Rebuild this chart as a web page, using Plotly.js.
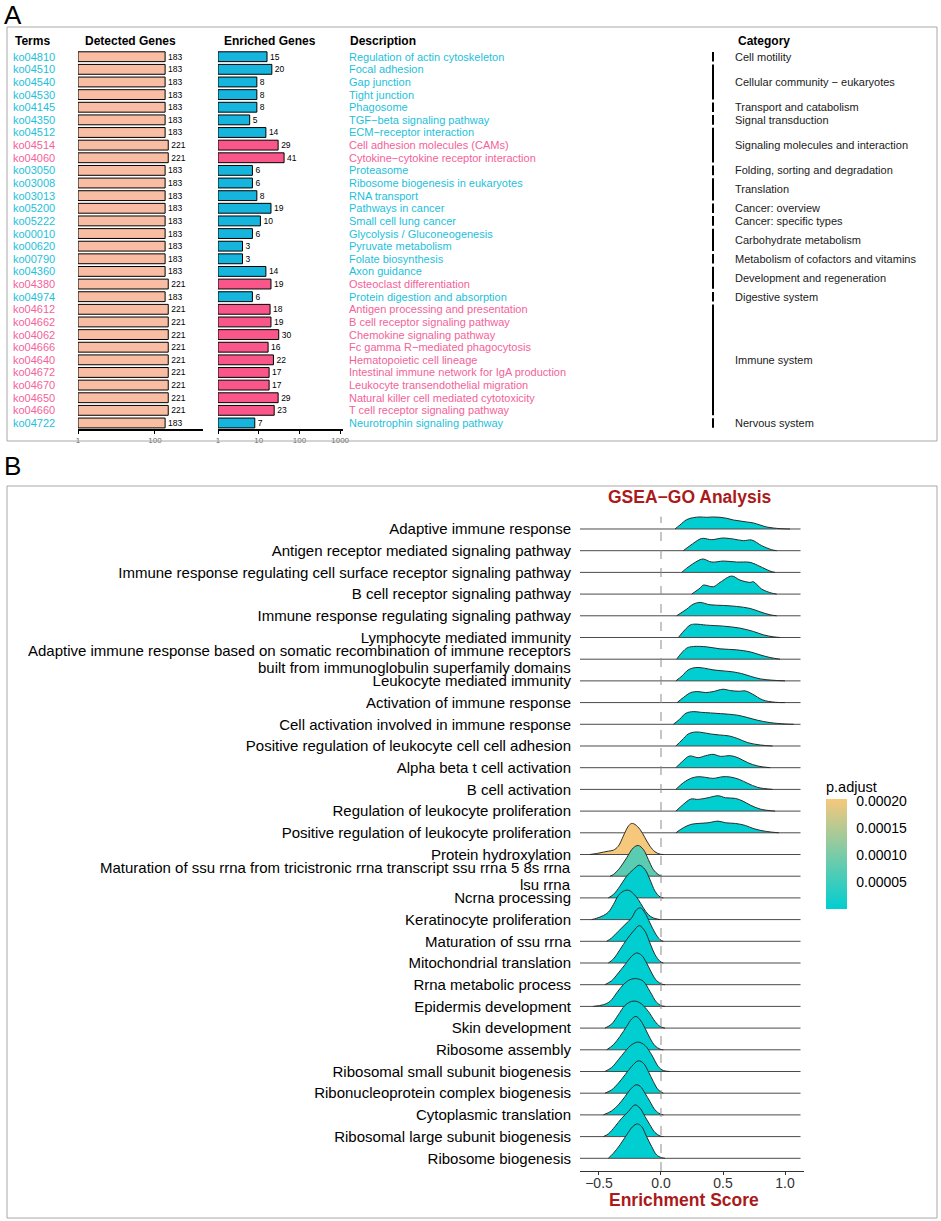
<!DOCTYPE html>
<html><head><meta charset="utf-8">
<script src="https://cdn.plot.ly/plotly-3.0.1.min.js"></script>
<style>html,body{margin:0;padding:0;background:#fff}#chart{width:941px;height:1221px}</style>
</head><body><div id="chart"></div>
<script>
// ---------------- Panel A data ----------------
const terms = ['ko04810','ko04510','ko04540','ko04530','ko04145','ko04350','ko04512','ko04514','ko04060','ko03050','ko03008','ko03013','ko05200','ko05222','ko00010','ko00620','ko00790','ko04360','ko04380','ko04974','ko04612','ko04662','ko04062','ko04666','ko04640','ko04672','ko04670','ko04650','ko04660','ko04722'];
const detectedGenes = [183,183,183,183,183,183,183,221,221,183,183,183,183,183,183,183,183,183,221,183,221,221,221,221,221,221,221,221,221,183];
const enrichedGenes = [15,20,8,8,8,5,14,29,41,6,6,8,19,10,6,3,3,14,19,6,18,19,30,16,22,17,17,29,23,7];
const termHighlight = [0,0,0,0,0,0,0,1,1,0,0,0,0,0,0,0,0,0,1,0,1,1,1,1,1,1,1,1,1,0];
const descriptions = ['Regulation of actin cytoskeleton','Focal adhesion','Gap junction','Tight junction','Phagosome','TGF\u2212beta signaling pathway','ECM\u2212receptor interaction','Cell adhesion molecules (CAMs)','Cytokine\u2212cytokine receptor interaction','Proteasome','Ribosome biogenesis in eukaryotes','RNA transport','Pathways in cancer','Small cell lung cancer','Glycolysis / Gluconeogenesis','Pyruvate metabolism','Folate biosynthesis','Axon guidance','Osteoclast differentiation','Protein digestion and absorption','Antigen processing and presentation','B cell receptor signaling pathway','Chemokine signaling pathway','Fc gamma R\u2212mediated phagocytosis','Hematopoietic cell lineage','Intestinal immune network for IgA production','Leukocyte transendothelial migration','Natural killer cell mediated cytotoxicity','T cell receptor signaling pathway','Neurotrophin signaling pathway'];
const categoryOfTerm = ['Cell motility','Cellular community \u2212 eukaryotes','Cellular community \u2212 eukaryotes','Cellular community \u2212 eukaryotes','Transport and catabolism','Signal transduction','Signaling molecules and interaction','Signaling molecules and interaction','Signaling molecules and interaction','Folding, sorting and degradation','Translation','Translation','Cancer: overview','Cancer: specific types','Carbohydrate metabolism','Carbohydrate metabolism','Metabolism of cofactors and vitamins','Development and regeneration','Development and regeneration','Digestive system','Immune system','Immune system','Immune system','Immune system','Immune system','Immune system','Immune system','Immune system','Immune system','Nervous system'];
const detectedTicks = [1,100];
const enrichedTicks = [1,10,100,1000];

// ---------------- Panel B data ----------------
const goTerms = ['Adaptive immune response','Antigen receptor mediated signaling pathway','Immune response regulating cell surface receptor signaling pathway','B cell receptor signaling pathway','Immune response regulating signaling pathway','Lymphocyte mediated immunity','Adaptive immune response based on somatic recombination of immune receptors\nbuilt from immunoglobulin superfamily domains','Leukocyte mediated immunity','Activation of immune response','Cell activation involved in immune response','Positive regulation of leukocyte cell cell adhesion','Alpha beta t cell activation','B cell activation','Regulation of leukocyte proliferation','Positive regulation of leukocyte proliferation','Protein hydroxylation','Maturation of ssu rrna from tricistronic rrna transcript ssu rrna 5 8s rrna\nlsu rrna','Ncrna processing','Keratinocyte proliferation','Maturation of ssu rrna','Mitochondrial translation','Rrna metabolic process','Epidermis development','Skin development','Ribosome assembly','Ribosomal small subunit biogenesis','Ribonucleoprotein complex biogenesis','Cytoplasmic translation','Ribosomal large subunit biogenesis','Ribosome biogenesis'];
const pAdjust = [1.3e-6,1.4e-6,1.4e-6,1.5e-6,1.3e-6,1.3e-6,1.4e-6,1.3e-6,1.5e-6,1.3e-6,1.6e-6,1.8e-6,1.5e-6,1.7e-6,2.0e-6,2.04e-4,7.5e-5,3.0e-6,2.5e-6,2.0e-6,1.8e-6,2.2e-6,1.6e-6,1.9e-6,1.4e-6,1.5e-6,1.6e-6,1.3e-6,1.4e-6,1.25e-6];
// enrichment scores (x) and relative density (height) read from each ridge
const ridgeScores = [
 [0.113,0.153,0.207,0.261,0.315,0.368,0.422,0.476,0.53,0.583,0.637,0.691,0.745,0.798,0.852,0.906,0.96,1.04],
 [0.18,0.234,0.315,0.341,0.409,0.476,0.503,0.583,0.664,0.731,0.812,0.892,0.933],
 [0.167,0.234,0.315,0.341,0.409,0.503,0.61,0.718,0.798,0.879,0.919],
 [0.247,0.315,0.341,0.422,0.476,0.57,0.637,0.718,0.745,0.812,0.892,0.933],
 [0.126,0.207,0.261,0.315,0.395,0.503,0.61,0.718,0.798,0.879,0.933],
 [0.14,0.234,0.274,0.368,0.503,0.637,0.745,0.825,0.906,0.96],
 [0.126,0.207,0.261,0.368,0.476,0.61,0.718,0.798,0.879,0.96],
 [0.12,0.17,0.22,0.28,0.35,0.42,0.5,0.58,0.65,0.72,0.8,0.9,1.0],
 [0.13,0.18,0.24,0.3,0.36,0.42,0.5,0.56,0.63,0.68,0.74,0.82,0.92,1.0],
 [0.1,0.15,0.2,0.26,0.32,0.4,0.48,0.55,0.62,0.7,0.78,0.88,1.0,1.07],
 [0.12,0.17,0.22,0.28,0.34,0.4,0.47,0.55,0.62,0.7,0.8,0.9],
 [0.12,0.17,0.23,0.3,0.36,0.42,0.48,0.56,0.62,0.7,0.78,0.88],
 [0.12,0.18,0.24,0.3,0.36,0.42,0.5,0.56,0.63,0.7,0.78,0.9],
 [0.12,0.18,0.24,0.3,0.38,0.46,0.52,0.6,0.66,0.72,0.8,0.92],
 [0.12,0.18,0.24,0.3,0.38,0.46,0.52,0.6,0.68,0.75,0.85,0.95],
 [-0.573,-0.519,-0.465,-0.425,-0.384,-0.344,-0.304,-0.263,-0.237,-0.210,-0.169,-0.129,-0.089,-0.048,-0.008,0.019],
 [-0.411,-0.384,-0.331,-0.277,-0.223,-0.183,-0.142,-0.102,-0.062,-0.022,0.005],
 [-0.425,-0.384,-0.331,-0.277,-0.223,-0.175,-0.129,-0.089,-0.048,-0.008,0.019],
 [-0.559,-0.519,-0.465,-0.425,-0.384,-0.344,-0.304,-0.263,-0.223,-0.183,-0.142,-0.102,-0.062,-0.008],
 [-0.438,-0.398,-0.344,-0.290,-0.237,-0.196,-0.164,-0.129,-0.089,-0.048,-0.008,0.019],
 [-0.425,-0.384,-0.331,-0.277,-0.223,-0.175,-0.129,-0.089,-0.048,-0.008,0.019],
 [-0.452,-0.398,-0.344,-0.290,-0.237,-0.196,-0.156,-0.116,-0.075,-0.035,0.005,0.032],
 [-0.546,-0.465,-0.411,-0.358,-0.304,-0.250,-0.196,-0.142,-0.089,-0.035,0.005,0.032],
 [-0.452,-0.398,-0.344,-0.290,-0.237,-0.196,-0.156,-0.102,-0.048,-0.008,0.032],
 [-0.438,-0.384,-0.331,-0.277,-0.237,-0.202,-0.169,-0.129,-0.089,-0.048,-0.008,0.019],
 [-0.452,-0.398,-0.344,-0.290,-0.237,-0.183,-0.129,-0.075,-0.022,0.019,0.073],
 [-0.452,-0.398,-0.344,-0.290,-0.237,-0.183,-0.142,-0.102,-0.062,-0.022,0.019],
 [-0.465,-0.398,-0.344,-0.290,-0.250,-0.202,-0.169,-0.129,-0.089,-0.048,-0.008,0.019],
 [-0.465,-0.425,-0.371,-0.317,-0.263,-0.210,-0.169,-0.129,-0.089,-0.048,-0.008,0.019],
 [-0.425,-0.384,-0.331,-0.277,-0.228,-0.191,-0.156,-0.116,-0.075,-0.035,0.005,0.032]
];
const ridgeDensity = [
 [0,12,28,34,36,35,36,35,32,27,24,21,18,12,6,3,1,0],
 [0,15,35,37,33,37,38,35,30,32,15,3,0],
 [0,20,38,40,31,34,31,30,18,4,0],
 [0,18,27,22,35,54,42,35,37,15,3,0],
 [0,20,35,40,33,31,28,22,12,3,0],
 [0,37,40,37,34,28,18,8,2,0],
 [0,33,38,37,31,28,22,13,5,0],
 [0,15,33,40,38,33,30,27,22,14,6,2,0],
 [0,15,30,33,30,33,40,36,34,35,25,8,1,0],
 [0,15,33,38,36,34,32,30,27,20,12,5,1,0],
 [0,18,36,42,40,36,33,30,22,10,3,0],
 [0,18,35,30,36,40,34,36,30,15,5,0],
 [0,20,33,38,36,33,38,37,30,18,6,0],
 [0,20,36,35,40,46,40,38,30,18,6,0],
 [0,15,25,28,30,35,30,28,22,12,4,0],
 [0,3,7,10,13,25,55,85,93,90,75,50,25,8,1,0],
 [0,5,25,55,85,92,80,50,20,5,0],
 [0,10,35,65,85,98,85,55,20,3,0],
 [0,4,12,22,45,72,85,88,78,60,35,15,5,0],
 [0,10,30,50,70,95,100,85,55,25,5,0],
 [0,12,40,70,95,112,95,60,25,5,0],
 [0,12,35,60,85,95,88,65,35,12,2,0],
 [0,5,15,40,65,80,83,75,45,12,2,0],
 [0,12,40,68,80,80,72,50,20,5,0],
 [0,15,40,70,92,100,90,65,35,12,2,0],
 [0,12,35,60,80,88,78,50,15,3,0],
 [0,10,30,55,80,97,90,65,35,10,0],
 [0,12,30,55,75,90,86,65,40,15,3,0],
 [0,8,30,55,75,95,85,60,35,12,2,0],
 [0,15,40,70,95,103,95,65,35,10,2,0]
];
const densityRange = [-0.653, 1.125];
const scoreTicks = [-0.5,0,0.5,1];
const scoreTickText = ['\u22120.5','0.0','0.5','1.0'];
const pTicks = [0.00005,0.0001,0.00015,0.0002];
const pLimits = [1.25e-6, 2.04e-4];

// ---------------- styling / layout helpers ----------------
const W = 941, H = 1221;
const fx = p => p / W;
const fy = p => 1 - p / H;
const FONT = 'Liberation Sans, Arial, Helvetica, sans-serif';
const CYAN_TXT = '#1EBFDB', PINK_TXT = '#F4629A';
const BLUE_BAR = '#16B5DD', PINK_BAR = '#F9568A', SALMON = '#F8BDA2';
const LOW = [0,206,209], HIGH = [246,200,124];
const DARKRED = '#AA1A1A';
const ridgeScale = 1/65;   // density -> row units
const ROW_PX = 21.67;      // pixel height of one ridge row

function pColor(p){
  const t = Math.max(0, Math.min(1, (p - pLimits[0])/(pLimits[1]-pLimits[0])));
  const c = LOW.map((v,k)=>Math.round(v + (HIGH[k]-v)*t));
  return 'rgb('+c.join(',')+')';
}

const traces = [];
// Panel A bars
traces.push({
  type:'bar', orientation:'h', x: detectedGenes, y: terms, base: 1,
  xaxis:'x', yaxis:'y', width:0.78,
  marker:{color:SALMON, line:{color:'#000', width:1}},
  text: detectedGenes.map(String), textposition:'outside', cliponaxis:false,
  textfont:{size:8.5, color:'#000', family:FONT}, constraintext:'none', hoverinfo:'skip'
});
traces.push({
  type:'bar', orientation:'h', x: enrichedGenes, y: terms, base: 1,
  xaxis:'x2', yaxis:'y', width:0.78,
  marker:{color: termHighlight.map(h => h ? PINK_BAR : BLUE_BAR), line:{color:'#000', width:1}},
  text: enrichedGenes.map(String), textposition:'outside', cliponaxis:false,
  textfont:{size:8.5, color:'#000', family:FONT}, constraintext:'none', hoverinfo:'skip'
});

// Panel B ridges (top row drawn first, lower rows overlay)
const nR = goTerms.length;
goTerms.forEach((g, i) => {
  const base = nR - 1 - i;
  traces.push({
    type:'scatter', mode:'lines', x: densityRange, y:[base, base],
    xaxis:'x3', yaxis:'y3', line:{color:'#4a4a4a', width:1}, hoverinfo:'skip'
  });
  traces.push({
    type:'scatter', mode:'lines', x: ridgeScores[i], y: ridgeDensity[i].map(d => base + d*ridgeScale),
    xaxis:'x3', yaxis:'y3', fill:'tonexty', fillcolor: pColor(pAdjust[i]),
    line:{color:'#2b2b2b', width:1, shape:'spline', smoothing:1}, hoverinfo:'skip'
  });
});
// colour bar carrier
traces.push({
  type:'scatter', mode:'markers', x: pAdjust.map(()=>null), y: pAdjust.map(()=>null),
  xaxis:'x3', yaxis:'y3', hoverinfo:'skip',
  marker:{color:pAdjust, cmin:pLimits[0], cmax:pLimits[1],
    colorscale:[[0,'rgb('+LOW.join(',')+')'],[1,'rgb('+HIGH.join(',')+')']], showscale:true,
    colorbar:{x:fx(826), xanchor:'left', xpad:0, y:fy(778), yanchor:'top', ypad:0,
      len:131, lenmode:'pixels', thickness:21, thicknessmode:'pixels', outlinewidth:0,
      tickvals:pTicks, ticktext:pTicks.map(v=>v.toFixed(5)), ticks:'outside', ticklen:7, tickcolor:'rgba(255,255,255,0)',
      tickfont:{size:14, color:'#000', family:FONT},
      title:{text:'p.adjust', side:'top', font:{size:14.5, color:'#000', family:FONT}}}}
});

// ---------------- annotations & shapes ----------------
const ann = [], shapes = [];
ann.push({text:'A', x:fx(2), y:fy(15), xref:'paper', yref:'paper', xanchor:'left', yanchor:'middle', showarrow:false, font:{size:26, color:'#000', family:FONT}});
ann.push({text:'B', x:fx(2), y:fy(466), xref:'paper', yref:'paper', xanchor:'left', yanchor:'middle', showarrow:false, font:{size:26, color:'#000', family:FONT}});
shapes.push({type:'rect', xref:'paper', yref:'paper', x0:fx(7), x1:fx(937), y0:fy(27), y1:fy(441), line:{color:'#A8A8A8', width:1}});
shapes.push({type:'rect', xref:'paper', yref:'paper', x0:fx(7), x1:fx(937), y0:fy(486), y1:fy(1218), line:{color:'#A8A8A8', width:1}});
// headers
[['Terms',13,'left'],['Detected Genes',130,'center'],['Enriched Genes',270,'center'],['Description',348,'left'],['Category',736,'left']].forEach(h => {
  ann.push({text:'<b>'+h[0]+'</b>', x:fx(h[1]), y:fy(41), xref:'paper', yref:'paper', xanchor:h[2], yanchor:'middle', showarrow:false, font:{size:12, color:'#000', family:FONT}});
});
terms.forEach((t,i) => {
  const c = termHighlight[i] ? PINK_TXT : CYAN_TXT;
  ann.push({text:t, x:fx(11), y:i, xref:'paper', yref:'y', xanchor:'left', yanchor:'middle', showarrow:false, font:{size:11, color:c, family:FONT}});
  ann.push({text:descriptions[i], x:fx(347), y:i, xref:'paper', yref:'y', xanchor:'left', yanchor:'middle', showarrow:false, font:{size:11, color:c, family:FONT}});
});
// category groups (consecutive runs)
let s = 0;
for (let i = 1; i <= categoryOfTerm.length; i++) {
  if (i === categoryOfTerm.length || categoryOfTerm[i] !== categoryOfTerm[s]) {
    shapes.push({type:'line', xref:'paper', yref:'y', x0:fx(713), x1:fx(713), y0:s-0.5+0.12, y1:i-1+0.5-0.12, line:{color:'#000', width:2}});
    ann.push({text:categoryOfTerm[s], x:fx(733), y:(s+i-1)/2, xref:'paper', yref:'y', xanchor:'left', yanchor:'middle', showarrow:false, font:{size:11, color:'#1a1a1a', family:FONT}});
    s = i;
  }
}
// multi-line ridge labels: placed as tight two-line annotations (ggplot line spacing)
goTerms.forEach((g, i) => {
  if (g.indexOf('\n') < 0) return;
  const base = nR - 1 - i;
  const lines = g.split('\n');
  lines.forEach((ln, k) => {
    const off = (k - (lines.length - 1) / 2) * 16.8 / ROW_PX;
    ann.push({text:ln, x:fx(573), y:base - off, xref:'paper', yref:'y3', xanchor:'right', yanchor:'middle', showarrow:false,
      font:{size:15, color:'#000', family:FONT}});
  });
});
// panel B titles
ann.push({text:'<b>GSEA\u2212GO Analysis</b>', x:fx(690), y:fy(497), xref:'paper', yref:'paper', xanchor:'center', yanchor:'middle', showarrow:false, font:{size:17.5, color:DARKRED, family:FONT}});
ann.push({text:'<b>Enrichment Score</b>', x:fx(684), y:fy(1200), xref:'paper', yref:'paper', xanchor:'center', yanchor:'middle', showarrow:false, font:{size:17.5, color:DARKRED, family:FONT}});
// zero reference line
shapes.push({type:'line', xref:'x3', yref:'y3 domain', x0:0, x1:0, y0:0, y1:0.99, line:{color:'#8c8c8c', width:1, dash:'dash'}, layer:'above'});

const axA = {type:'log', anchor:'y', showgrid:false, zeroline:false, showline:true, linecolor:'#000', linewidth:1.3,
  ticks:'outside', ticklen:3, tickcolor:'#000', tickwidth:1, tickfont:{size:8, color:'#666', family:FONT}, fixedrange:true};

const layout = {
  width:W, height:H, margin:{l:0,r:0,t:0,b:0}, paper_bgcolor:'#fff', plot_bgcolor:'rgba(0,0,0,0)',
  showlegend:false, font:{family:FONT, color:'#000'}, hovermode:false,
  xaxis: Object.assign({}, axA, {domain:[fx(78), fx(203)], range:[0, 3.25], tickvals:detectedTicks, ticktext:detectedTicks.map(String)}),
  xaxis2: Object.assign({}, axA, {domain:[fx(218), fx(343)], range:[0, 3.07], tickvals:enrichedTicks, ticktext:enrichedTicks.map(String)}),
  yaxis:{domain:[fy(429.3), fy(50.4)], type:'category', categoryorder:'array', categoryarray:terms, range:[terms.length-0.5, -0.5],
    showticklabels:false, ticks:'', showline:false, showgrid:false, zeroline:false, anchor:'x', fixedrange:true},
  xaxis3:{domain:[fx(580), fx(804)], range:[-0.653, 1.153], anchor:'y3', tickvals:scoreTicks, ticktext:scoreTickText,
    ticks:'outside', ticklen:3, tickcolor:'#333', showline:true, linecolor:'#333', linewidth:1, showgrid:false, zeroline:false,
    ticklabelstandoff:-4, tickfont:{size:14, color:'#333', family:FONT}},
  yaxis3:{domain:[fy(1171), fy(510)], range:[-0.585, nR - 1 + 0.875], anchor:'x3',
    tickvals: goTerms.map((_,i)=>nR-1-i), ticktext: goTerms.map(g => g.indexOf('\n') >= 0 ? ' ' : g),
    ticks:'', showgrid:false, zeroline:false, showline:false, ticklabelstandoff:8,
    tickfont:{size:15, color:'#000', family:FONT}},
  annotations: ann, shapes: shapes
};

Plotly.newPlot('chart', traces, layout, {staticPlot:true, displayModeBar:false});
</script>
</body></html>
